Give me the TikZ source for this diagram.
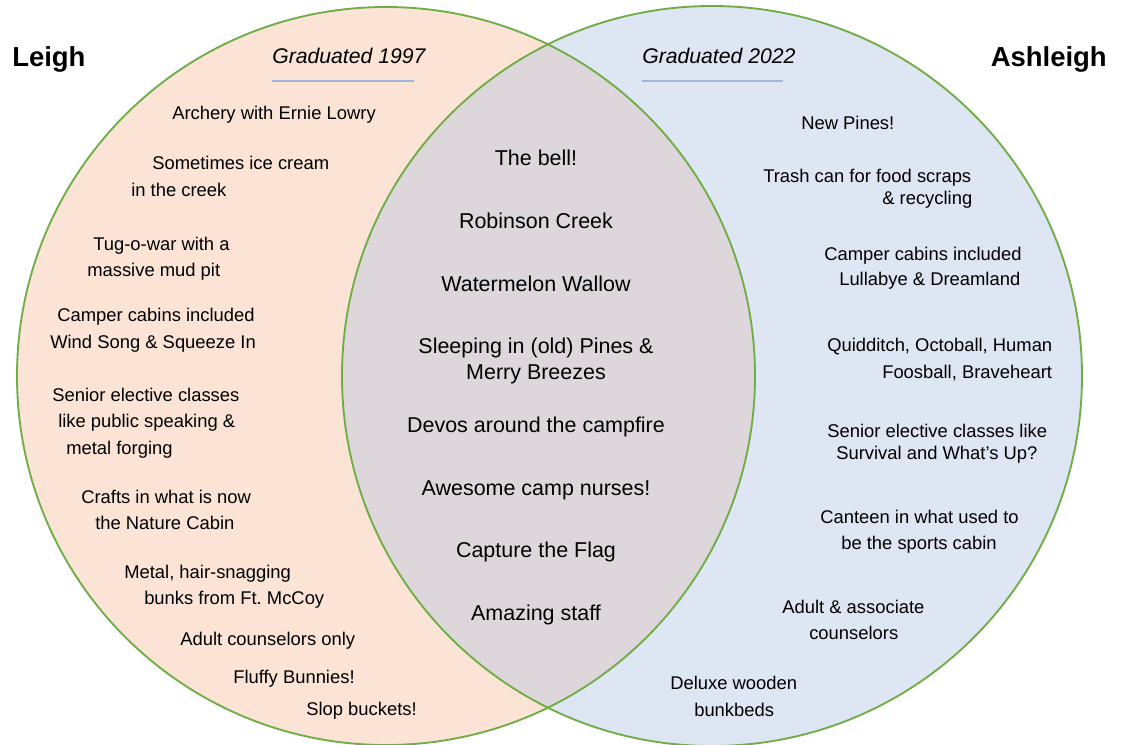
\documentclass[tikz,border=0pt]{standalone}
\usepackage{fontspec}
\setmainfont{Liberation Sans}
\usetikzlibrary{positioning}
\definecolor{leighfill}{RGB}{251,228,214}
\definecolor{ashfill}{RGB}{222,230,243}
\definecolor{bothfill}{RGB}{221,215,219}
\definecolor{venngreen}{RGB}{112,173,71}
\definecolor{ruleblue}{RGB}{160,182,222}

\begin{document}
\begin{tikzpicture}[x=0.75pt,y=-0.75pt,
					venn_line/.style={draw=venngreen, line width=1.4pt},
					% mục bên trái / bên phải
					item/.style={anchor=west, inner sep=0pt, text height=.6em, text depth=0pt,
						yshift=-2.25pt, font=\fontsize{13.8}{16}\selectfont},
					% mục chung ở giữa
					shared/.style={inner sep=0pt, text height=.6em, text depth=0pt,
						yshift=-2.25pt, font=\fontsize{16.1}{19}\selectfont},
					who/.style={inner sep=0pt, text height=.6em, text depth=0pt,
						yshift=-2.5pt, font=\bfseries\fontsize{20.6}{24}\selectfont},
					year/.style={inner sep=0pt, text height=.6em, text depth=0pt,
						yshift=-2.25pt, font=\itshape\fontsize{15.9}{19}\selectfont}
					]
					\useasboundingbox (0,0) rectangle (1122,744);
					
					% Hai vòng tròn
					\fill[leighfill] (386,376) circle[radius=276.75pt];
					\fill[ashfill] (712,376) circle[radius=277.5pt];
					\begin{scope}
						\clip (386,376) circle[radius=276.75pt];
						\fill[bothfill] (712,376) circle[radius=277.5pt];
					\end{scope}
					\draw[venn_line] (386,376) circle[radius=276.75pt];
					\draw[venn_line] (712,376) circle[radius=277.5pt];
					
					% Tên và năm
					\node[who, anchor=west] (leigh) at (12,59) {Leigh};
					\node[who, anchor=east] (ashleigh) at (1107,59) {Ashleigh};
					\node[year, anchor=west] (yrL) at (272,56) {Graduated 1997};
					\node[year, anchor=west] (yrR) at (642,56) {Graduated 2022};
					\coordinate (ruleLa) at (272,81);
					\coordinate (ruleLb) at (414,81);
					\coordinate (ruleRa) at (642,81);
					\coordinate (ruleRb) at (783,81);
					\draw[ruleblue, line width=1pt] (ruleLa) -- (ruleLb);
					\draw[ruleblue, line width=1pt] (ruleRa) -- (ruleRb);
					
					% Leigh
					\node[item] (l1) at (172,112) {Archery with Ernie Lowry};
					\node[item] (l2a) at (152,162) {Sometimes ice cream};
					\node[item] (l2b) at (131,189) {in the creek};
					\node[item] (l3a) at (93,243) {Tug-o-war with a};
					\node[item] (l3b) at (87,269) {massive mud pit};
					\node[item] (l4a) at (57,314) {Camper cabins included};
					\node[item] (l4b) at (50,341) {Wind Song \& Squeeze In};
					\node[item] (l5a) at (52,394) {Senior elective classes};
					\node[item] (l5b) at (58,420) {like public speaking \&};
					\node[item] (l5c) at (66,447) {metal forging};
					\node[item] (l6a) at (81,496) {Crafts in what is now};
					\node[item] (l6b) at (95,522) {the Nature Cabin};
					\node[item] (l7a) at (124,571) {Metal, hair-snagging};
					\node[item] (l7b) at (144,597) {bunks from Ft.\ McCoy};
					\node[item] (l8) at (180,638) {Adult counselors only};
					\node[item] (l9) at (233,676) {Fluffy Bunnies!};
					\node[item] (l10) at (306,708) {Slop buckets!};
					
					% Chung
					\node[shared] (b1) at (536,158) {The bell!};
					\node[shared] (b2) at (536,221) {Robinson Creek};
					\node[shared] (b3) at (536,284) {Watermelon Wallow};
					\node[shared] (b4a) at (536,346) {Sleeping in (old) Pines \&};
					\node[shared] (b4b) at (536,372) {Merry Breezes};
					\node[shared] (b5) at (536,425) {Devos around the campfire};
					\node[shared] (b6) at (536,488) {Awesome camp nurses!};
					\node[shared] (b7) at (536,550) {Capture the Flag};
					\node[shared] (b8) at (536,613) {Amazing staff};
					
					% Ashleigh
					\node[item] (r1) at (801,122) {New Pines!};
					\node[item] (r2a) at (763,175) {Trash can for food scraps};
					\node[item] (r2b) at (882,197) {\& recycling};
					\node[item] (r3a) at (824,253) {Camper cabins included};
					\node[item] (r3b) at (839,278) {Lullabye \& Dreamland};
					\node[item] (r4a) at (827,344) {Quidditch, Octoball, Human};
					\node[item] (r4b) at (882,371) {Foosball, Braveheart};
					\node[item] (r5a) at (827,430) {Senior elective classes like};
					\node[item] (r5b) at (836,452) {Survival and What’s Up?};
					\node[item] (r6a) at (820,516) {Canteen in what used to};
					\node[item] (r6b) at (841,542) {be the sports cabin};
					\node[item] (r7a) at (782,606) {Adult \& associate};
					\node[item] (r7b) at (809,632) {counselors};
					\node[item] (r8a) at (670,682) {Deluxe wooden};
					\node[item] (r8b) at (694,709) {bunkbeds};
					
				\end{tikzpicture}
\end{document}
